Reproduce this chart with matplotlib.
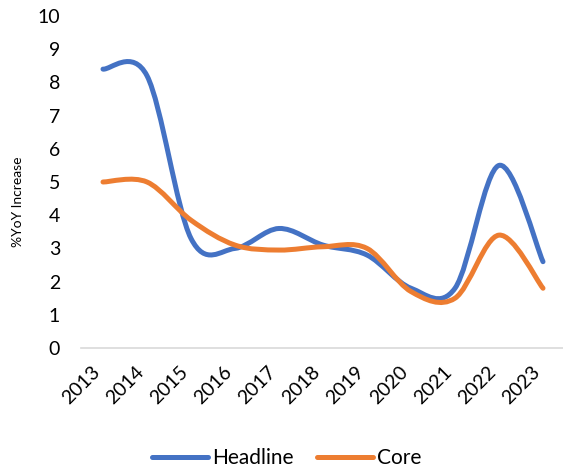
import numpy as np
import matplotlib
matplotlib.use("Agg")
from matplotlib import pyplot as plt
from matplotlib.path import Path
from matplotlib.patches import PathPatch
from matplotlib.lines import Line2D

years = ["2013", "2014", "2015", "2016", "2017", "2018", "2019", "2020", "2021", "2022", "2023"]
headline = [8.4, 8.2, 3.3, 3.0, 3.6, 3.1, 2.8, 1.8, 1.8, 5.5, 2.6]
core = [5.0, 5.0, 3.85, 3.1, 2.95, 3.05, 3.0, 1.7, 1.5, 3.4, 1.8]

blue = "#4472c4"
orange = "#ed7d31"

plt.rcParams['font.family'] = ['Lato', 'DejaVu Sans']


def smooth_path(x, y):
    # excel-like smoothed line: bezier segments, catmull-rom control points
    pts = np.column_stack([x, y]).astype(float)
    n = len(pts)
    verts = [pts[0]]
    codes = [Path.MOVETO]
    for i in range(n - 1):
        p0 = pts[max(i - 1, 0)]
        p1 = pts[i]
        p2 = pts[i + 1]
        p3 = pts[min(i + 2, n - 1)]
        c1 = p1 + (p2 - p0) / 6
        c2 = p2 - (p3 - p1) / 6
        verts += [c1, c2, p2]
        codes += [Path.CURVE4] * 3
    return Path(verts, codes)


fig = plt.figure(figsize=(5.63, 4.72), dpi=100)
ax = fig.add_axes([81 / 563, 124 / 472, 484 / 563, 332 / 472])

x = np.arange(len(years))
for vals, col in [(headline, blue), (core, orange)]:
    ax.add_patch(PathPatch(smooth_path(x, vals), facecolor="none", edgecolor=col,
                           lw=3.6, capstyle="round", joinstyle="round"))

ax.set_xlim(-0.5, len(years) - 0.5)
ax.set_ylim(0, 10)
ax.set_yticks(range(0, 11))
ax.set_xticks(x)
ax.set_xticklabels(years, rotation=45, ha="right", va="top", rotation_mode="default")

for s in ["top", "right", "left"]:
    ax.spines[s].set_visible(False)
ax.spines["bottom"].set_color("#d9d9d9")
ax.spines["bottom"].set_linewidth(1.2)
ax.tick_params(axis="both", length=0, labelsize=14, colors="black")
ax.tick_params(axis="y", pad=15)
ax.tick_params(axis="x", pad=11)

fig.text(18 / 563, 1 - 202 / 472, "%YoY Increase", rotation=90, fontsize=10,
         ha="center", va="center")

handles = [Line2D([], [], color=blue, lw=3.6, solid_capstyle="round"),
           Line2D([], [], color=orange, lw=3.6, solid_capstyle="round")]
fig.legend(handles, ["Headline", "Core"], loc="center", bbox_to_anchor=(287 / 563, 1 - 458 / 472),
           ncol=2, frameon=False, fontsize=15, handlelength=2.7, handletextpad=0.2,
           columnspacing=1.1)

fig.savefig("out.png", dpi=100)
